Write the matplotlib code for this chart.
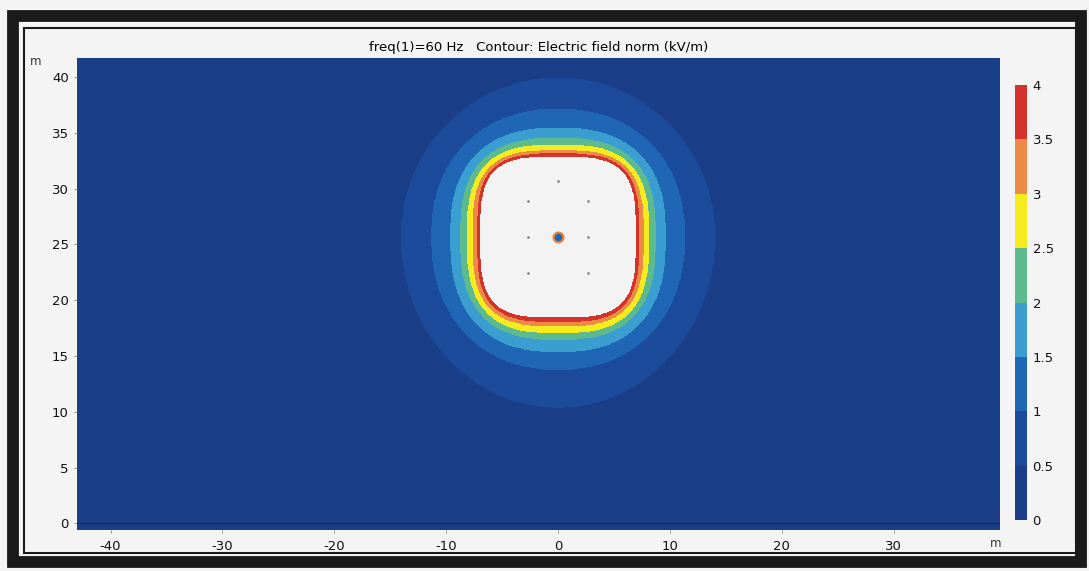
import numpy as np
import matplotlib
matplotlib.use("Agg")
import matplotlib.pyplot as plt
from matplotlib.colors import ListedColormap, BoundaryNorm
from matplotlib.patches import Rectangle
import matplotlib.cm as cm

plt.rcParams['axes.unicode_minus'] = False

# contour levels (kV/m) and band colours
levels = [0, 0.5, 1, 1.5, 2, 2.5, 3, 3.5, 4]
band_colors = ['#1a3f88', '#1d4b9c', '#1f66b4', '#3a9fd0', '#5db98e',
               '#f4ec1e', '#ee8a48', '#d6322c']
over_color = '#f3f3f3'

# contour boundaries, measured from the centre of the bundle (m)
center = (0.0, 25.7)
bound_level = [0.5, 1, 1.5, 2, 2.5, 3, 3.5, 4]
rx = [14.0, 11.3, 9.6, 8.7, 8.1, 7.6, 7.2, 6.9]
ry_top = [14.2, 11.4, 9.7, 8.8, 8.2, 7.7, 7.4, 7.1]
ry_bot = [15.3, 11.9, 10.3, 9.2, 8.6, 8.0, 7.6, 7.2]
shape_p = [2.0, 2.2, 2.5, 2.7, 2.9, 3.1, 3.3, 3.5]

# conductor positions (m)
cond_x = [-2.7, 2.7, 0.0, -2.7, 2.7, -2.7, 2.7]
cond_y = [28.9, 28.9, 30.7, 25.7, 25.7, 22.4, 22.4]

xticks = [-40, -30, -20, -10, 0, 10, 20, 30]
yticks = [0, 5, 10, 15, 20, 25, 30, 35, 40]
cticks = [0, 0.5, 1, 1.5, 2, 2.5, 3, 3.5, 4]
title = 'freq(1)=60 Hz   Contour: Electric field norm (kV/m)'


def main():
    fig = plt.figure(figsize=(10.89, 5.71), dpi=100, facecolor='#f4f4f4')
    ax = fig.add_axes([77 / 1089, 41 / 571, 923 / 1089, 472 / 571])

    xs = np.linspace(-43.0, 39.5, 1650)
    ys = np.linspace(-0.6, 41.7, 850)
    X, Y = np.meshgrid(xs, ys)
    dx = np.abs(X - center[0])
    dy = Y - center[1]
    Z = np.full(X.shape, 0.25)
    for lv, a, bt, bb, p in zip(bound_level, rx, ry_top, ry_bot, shape_p):
        b = np.where(dy >= 0, bt, bb)
        inside = (dx / a) ** p + (np.abs(dy) / b) ** p <= 1.0
        Z = np.where(inside, lv + 0.25, Z)

    ax.contourf(X, Y, Z, levels=levels + [5], colors=band_colors + [over_color])

    # ground line
    ax.axhline(0, color='#1b2a52', lw=1.0)

    ax.plot(cond_x, cond_y, 'o', ms=2, color='#8a8a8a', mec='none')
    ax.plot([center[0]], [center[1]], 'o', ms=7, mfc='#1f66b4', mec='#e8803a', mew=1.6)

    ax.set_xlim(-43.0, 39.5)
    ax.set_ylim(-0.6, 41.7)
    ax.set_xticks(xticks)
    ax.set_yticks(yticks)
    ax.tick_params(labelsize=9.5, length=2, width=0.6, color='#888888', pad=4,
                   labelcolor='#111111')
    ax.tick_params(axis='x', pad=5)
    for s in ax.spines.values():
        s.set_visible(False)
    ax.set_title(title, fontsize=9.5, pad=5)

    # colour bar
    cax = fig.add_axes([1015 / 1089, 51 / 571, 12 / 1089, 435 / 571])
    cmap = ListedColormap(band_colors)
    norm = BoundaryNorm(levels, cmap.N)
    cb = fig.colorbar(cm.ScalarMappable(norm=norm, cmap=cmap), cax=cax, ticks=cticks)
    cb.outline.set_visible(False)
    cb.ax.set_yticklabels(['0', '0.5', '1', '1.5', '2', '2.5', '3', '3.5', '4'])
    cb.ax.tick_params(labelsize=9.5, length=0, pad=4, labelcolor='#111111')

    fig.text(30 / 1089, 1 - 65 / 571, 'm', fontsize=8.5, color='#333333')
    fig.text(990 / 1089, 1 - 547 / 571, 'm', fontsize=8.5, color='#333333')

    # scanned frame
    fig.add_artist(Rectangle((13 / 1089, 9 / 571), 1068 / 1089, 546 / 571,
                             transform=fig.transFigure, fill=False, lw=8.5, ec='#1a1a1a'))
    fig.add_artist(Rectangle((24 / 1089, 18 / 571), 1052 / 1089, 525 / 571,
                             transform=fig.transFigure, fill=False, lw=1.5, ec='#1a1a1a'))

    fig.savefig('out.png', dpi=100, facecolor=fig.get_facecolor())


if __name__ == '__main__':
    main()
